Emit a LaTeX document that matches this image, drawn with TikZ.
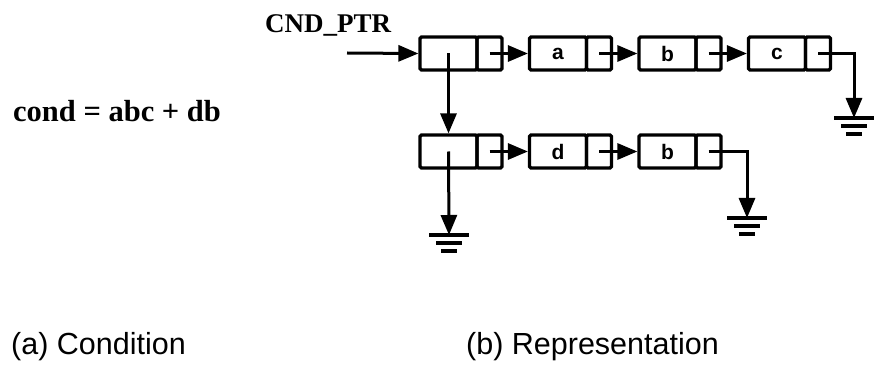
\documentclass[tikz,border=0pt]{standalone}
\usepackage{fontspec}
\setmainfont{Liberation Serif}
\setsansfont{Liberation Sans}
\usetikzlibrary{arrows.meta, positioning}

\begin{document}
\begin{tikzpicture}[x=1pt, y=-1pt,
    cell/.style={rectangle, draw, line width=3.2pt, rounded corners=1.5pt,
                 minimum height=33pt, inner sep=0pt,
                 font=\sffamily\bfseries\fontsize{21}{24}\selectfont},
    val/.style={cell, minimum width=57pt},
    ptr/.style={cell, minimum width=25pt},
    link/.style={-{Triangle[length=20pt,width=16pt]}, line width=3pt},
    gnd/.style={line width=3.4pt},
    lbl/.style={inner sep=0pt, anchor=base west}]

\useasboundingbox (0,0) rectangle (875,366);

%% Labels
\node[lbl, font=\bfseries\fontsize{30.5}{36}\selectfont] (cond) at (13,122) {cond = abc + db};
\node[lbl, font=\bfseries\fontsize{27}{32}\selectfont] (cndptr) at (265,33) {CND\_PTR};
\node[lbl, font=\sffamily\fontsize{30.5}{36}\selectfont] (capa) at (11,354) {(a) Condition};
\node[lbl, font=\sffamily\fontsize{30.5}{36}\selectfont] (capb) at (466,354) {(b) Representation};

%% Row 1 cells
\foreach \n/\t [count=\i from 0] in {h1/{}, a/a, b1/b, c/c} {
    \node[val] (\n) at (420+109.5*\i+28.5, 53.5) {\t};
    \node[ptr] (p\n) at (420+109.5*\i+69.5, 53.5) {};
}

%% Row 2 cells
\foreach \n/\t [count=\i from 0] in {h2/{}, d/d, b2/b} {
    \node[val] (\n) at (420+109.5*\i+28.5, 151.5) {\t};
    \node[ptr] (p\n) at (420+109.5*\i+69.5, 151.5) {};
}

%% Free ends
\coordinate (in) at (347,53);
\coordinate (g1) at (449,235);
\coordinate (g2) at (747,218);
\coordinate (g3) at (854,118);

%% Links
\draw[link] (in) -- (h1.west);
\draw[link] (ph1.center) -- (a.west);
\draw[link] (pa.center) -- (b1.west);
\draw[link] (pb1.center) -- (c.west);
\draw[link] (pc.center) -| (g3);
\draw[link] (h1.center) -- (h2.north);
\draw[link] (ph2.center) -- (d.west);
\draw[link] (pd.center) -- (b2.west);
\draw[link] (pb2.center) -| (g2);
\draw[link] (h2.center) -- (g1);

%% Grounds
\foreach \g in {g1,g2,g3} {
    \draw[gnd] ([shift={(-20,0)}]\g) -- ([shift={(20,0)}]\g);
    \draw[gnd] ([shift={(-13,8)}]\g) -- ([shift={(13,8)}]\g);
    \draw[gnd] ([shift={(-8,16)}]\g) -- ([shift={(8,16)}]\g);
}

\end{tikzpicture}
\end{document}
